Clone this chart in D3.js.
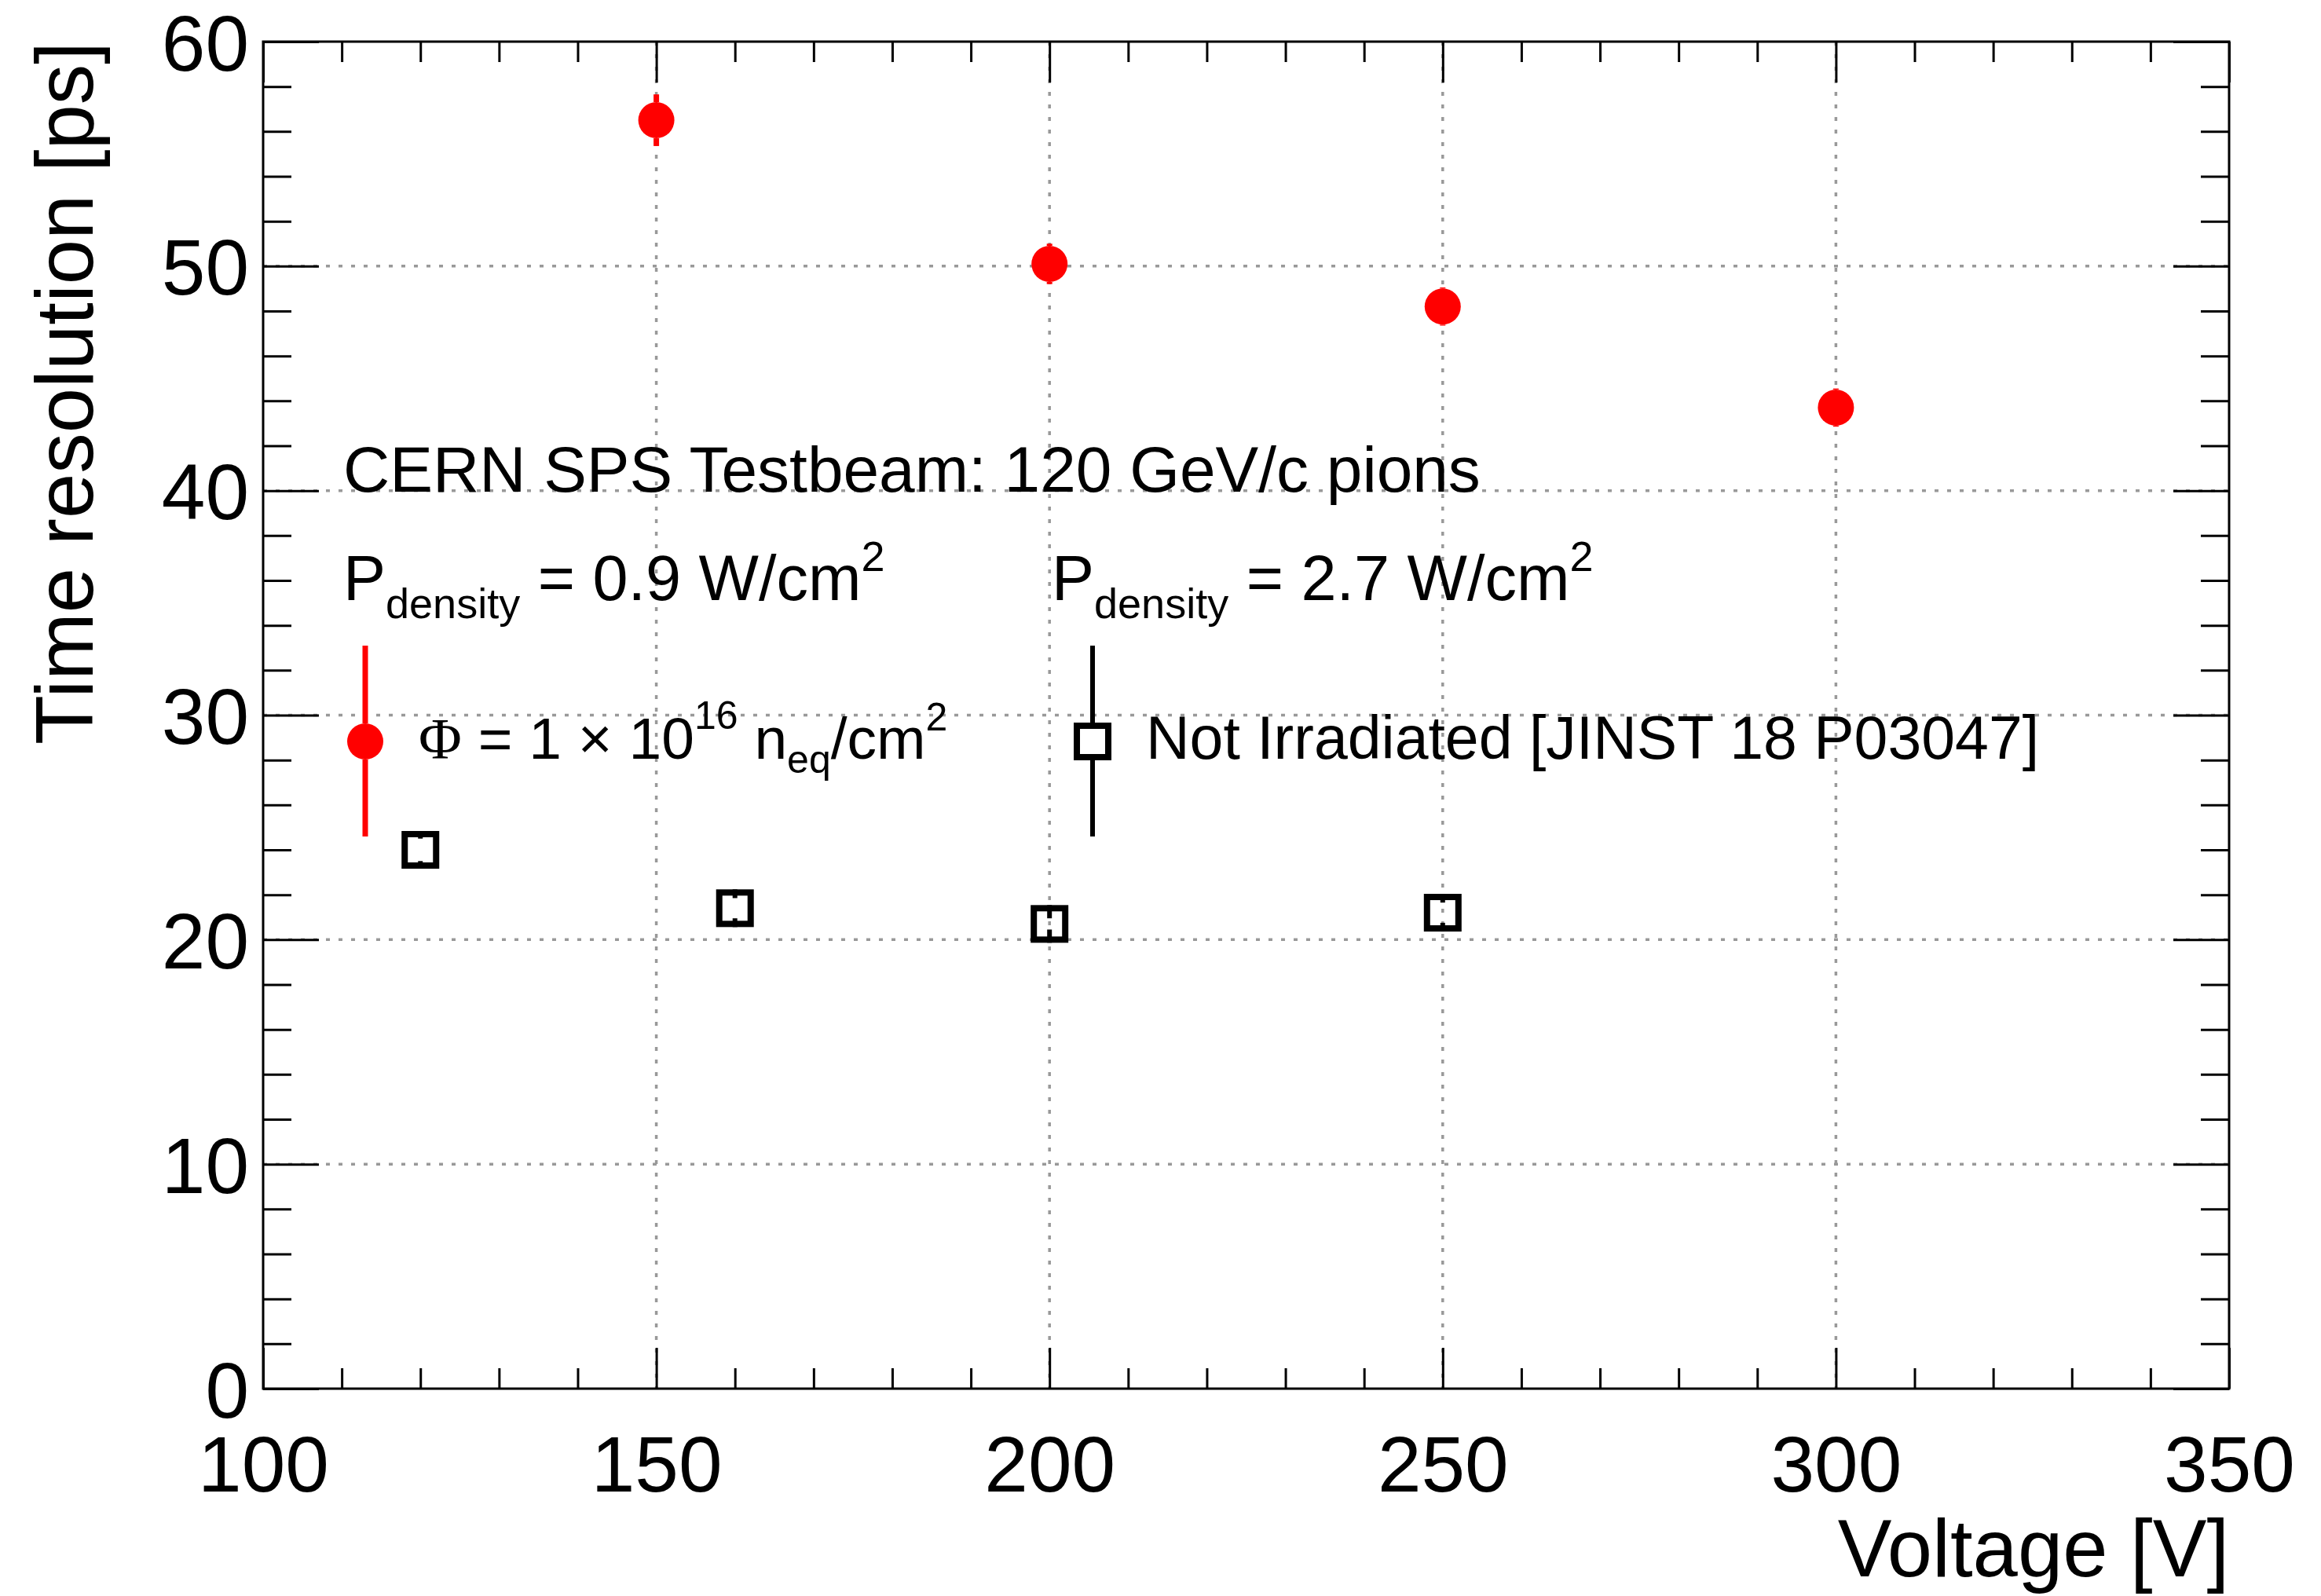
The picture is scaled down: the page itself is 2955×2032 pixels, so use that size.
<!DOCTYPE html>
<html>
<head>
<meta charset="utf-8">
<script src="https://cdn.jsdelivr.net/npm/d3@7"></script>
<style>
  body { margin: 0; background: #fff; }
  text { font-family: "Liberation Sans", Arial, Helvetica, sans-serif; fill: #000; }
</style>
</head>
<body>
<svg id="chart" width="2955" height="2032"></svg>
<script>
// irradiated sensor, 1e16 neq/cm2
const voltIrr = [150, 200, 250, 300];
const resIrr = [56.5, 50.1, 48.2, 43.7];
const errIrr = [1.15, 0.9, 0.85, 0.85];

// not irradiated [JINST 18 P03047]
const voltRef = [120, 160, 200, 250];
const resRef = [24.0, 21.4, 20.7, 21.2];
const errRef = [0.5, 0.45, 0.25, 0.45];

const xMajor = [100, 150, 200, 250, 300, 350];
const yMajor = [0, 10, 20, 30, 40, 50, 60];

const W = 2955, H = 2032;
const frame = { left: 335, right: 2838, top: 53, bottom: 1768 };

const svg = d3.select("#chart");
svg.append("rect").attr("width", W).attr("height", H).attr("fill", "#fff");

const x = d3.scaleLinear().domain([100, 350]).range([frame.left, frame.right]);
const y = d3.scaleLinear().domain([0, 60]).range([frame.bottom, frame.top]);

const xMinor = d3.range(100, 351, 10).filter(v => !xMajor.includes(v));
const yMinor = d3.range(0, 60.01, 2).filter(v => !yMajor.includes(v));

// grid (dotted, major ticks only)
const grid = svg.append("g").attr("stroke", "#999").attr("stroke-width", 3.5).attr("stroke-dasharray", "5 11");
xMajor.slice(1, -1).forEach(v => {
  grid.append("line").attr("x1", x(v)).attr("x2", x(v)).attr("y1", frame.top).attr("y2", frame.bottom);
});
yMajor.slice(1, -1).forEach(v => {
  grid.append("line").attr("x1", frame.left).attr("x2", frame.right).attr("y1", y(v)).attr("y2", y(v));
});

// axes: inward ticks on all four sides
function styleAxis(g) {
  g.select(".domain").remove();
  g.selectAll(".tick line").attr("stroke", "#000").attr("stroke-width", 3);
  g.selectAll(".tick text").attr("font-size", 100).attr("fill", "#000")
    .attr("font-family", "'Liberation Sans', Arial, Helvetica, sans-serif");
}

svg.append("g").attr("transform", `translate(0,${frame.bottom})`)
  .call(d3.axisBottom(x).tickValues(xMajor).tickSize(-52).tickSizeOuter(0).tickPadding(60).tickFormat(d3.format("d")))
  .call(styleAxis);
svg.append("g").attr("transform", `translate(0,${frame.bottom})`)
  .call(d3.axisBottom(x).tickValues(xMinor).tickSize(-26).tickSizeOuter(0).tickFormat(""))
  .call(styleAxis);
svg.append("g").attr("transform", `translate(0,${frame.top})`)
  .call(d3.axisTop(x).tickValues(xMajor).tickSize(-52).tickSizeOuter(0).tickFormat(""))
  .call(styleAxis);
svg.append("g").attr("transform", `translate(0,${frame.top})`)
  .call(d3.axisTop(x).tickValues(xMinor).tickSize(-26).tickSizeOuter(0).tickFormat(""))
  .call(styleAxis);

svg.append("g").attr("transform", `translate(${frame.left},0)`)
  .call(d3.axisLeft(y).tickValues(yMajor).tickSize(-71).tickSizeOuter(0).tickPadding(18).tickFormat(d3.format("d")))
  .call(styleAxis)
  .selectAll(".tick text").attr("dy", "0.36em");
svg.append("g").attr("transform", `translate(${frame.left},0)`)
  .call(d3.axisLeft(y).tickValues(yMinor).tickSize(-36).tickSizeOuter(0).tickFormat(""))
  .call(styleAxis);
svg.append("g").attr("transform", `translate(${frame.right},0)`)
  .call(d3.axisRight(y).tickValues(yMajor).tickSize(-71).tickSizeOuter(0).tickFormat(""))
  .call(styleAxis);
svg.append("g").attr("transform", `translate(${frame.right},0)`)
  .call(d3.axisRight(y).tickValues(yMinor).tickSize(-36).tickSizeOuter(0).tickFormat(""))
  .call(styleAxis);

// frame
svg.append("rect")
  .attr("x", frame.left).attr("y", frame.top)
  .attr("width", frame.right - frame.left).attr("height", frame.bottom - frame.top)
  .attr("fill", "none").attr("stroke", "#000").attr("stroke-width", 3);

// axis titles
svg.append("text").attr("x", frame.right).attr("y", 2007)
  .attr("text-anchor", "end").attr("font-size", 103).text("Voltage [V]");
svg.append("text").attr("transform", `translate(118,${frame.top}) rotate(-90)`)
  .attr("text-anchor", "end").attr("font-size", 103).text("Time resolution [ps]");

// error bars drawn ROOT style: from marker edge out to value +- error
function errorBars(g, xs, ys, es, half, color, width) {
  xs.forEach((v, i) => {
    const cx = x(v), cy = y(ys[i]);
    [[cy - half, y(ys[i] + es[i])], [cy + half, y(ys[i] - es[i])]].forEach(([a, b]) => {
      g.append("line").attr("x1", cx).attr("x2", cx).attr("y1", a).attr("y2", b)
        .attr("stroke", color).attr("stroke-width", width);
    });
  });
}

const pts = svg.append("g");
errorBars(pts, voltIrr, resIrr, errIrr, 23, "#ff0000", 7);
pts.selectAll(".irr").data(voltIrr).enter().append("circle")
  .attr("cx", d => x(d)).attr("cy", (d, i) => y(resIrr[i])).attr("r", 23).attr("fill", "#ff0000");

errorBars(pts, voltRef, resRef, errRef, 24, "#000", 6);
pts.selectAll(".ref").data(voltRef).enter().append("rect")
  .attr("x", d => x(d) - 20).attr("y", (d, i) => y(resRef[i]) - 20)
  .attr("width", 40).attr("height", 40)
  .attr("fill", "none").attr("stroke", "#000").attr("stroke-width", 8);

// header texts
svg.append("text").attr("x", 437).attr("y", 626).attr("font-size", 82)
  .text("CERN SPS Testbeam: 120 GeV/c pions");

function pDensity(xpos, val) {
  const t = svg.append("text").attr("x", xpos).attr("y", 764).attr("font-size", 81);
  t.append("tspan").text("P");
  t.append("tspan").attr("font-size", 54).attr("dy", 23).text("density");
  t.append("tspan").attr("dy", -23).text(` = ${val} W/cm`);
  t.append("tspan").attr("font-size", 54).attr("dy", -37).text("2");
}
pDensity(437, "0.9");
pDensity(1339, "2.7");

// legend
const legY = 944, legTop = 822, legBot = 1065;
const leg = svg.append("g");
[[465, "#ff0000", 23, 7], [1391, "#000", 24, 6]].forEach(([lx, c, half, w]) => {
  leg.append("line").attr("x1", lx).attr("x2", lx).attr("y1", legTop).attr("y2", legY - half)
    .attr("stroke", c).attr("stroke-width", w);
  leg.append("line").attr("x1", lx).attr("x2", lx).attr("y1", legY + half).attr("y2", legBot)
    .attr("stroke", c).attr("stroke-width", w);
});
leg.append("circle").attr("cx", 465).attr("cy", legY).attr("r", 23).attr("fill", "#ff0000");
leg.append("rect").attr("x", 1391 - 20).attr("y", legY - 20).attr("width", 40).attr("height", 40)
  .attr("fill", "none").attr("stroke", "#000").attr("stroke-width", 8);

const l1 = leg.append("text").attr("x", 533).attr("y", 966).attr("font-size", 75);
l1.append("tspan").attr("font-family", "'Liberation Serif', 'DejaVu Serif', serif").text("Φ");
l1.append("tspan").text(" = 1 × 10");
l1.append("tspan").attr("font-size", 50).attr("dy", -38).text("16");
l1.append("tspan").attr("dy", 38).text(" n");
l1.append("tspan").attr("font-size", 50).attr("dy", 18).text("eq");
l1.append("tspan").attr("dy", -18).text("/cm");
l1.append("tspan").attr("font-size", 50).attr("dy", -36).text("2");

leg.append("text").attr("x", 1459).attr("y", 966).attr("font-size", 77)
  .text("Not Irradiated [JINST 18 P03047]");
</script>
</body>
</html>
